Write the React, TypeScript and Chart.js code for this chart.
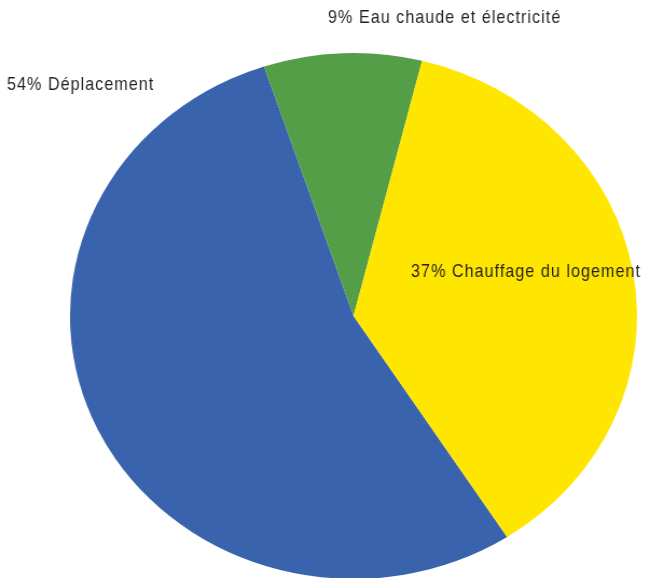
import React, { useEffect, useRef } from "react";
import { Chart, registerables } from "chart.js";

Chart.register(...registerables);

const categories = ["Déplacement", "Eau chaude et électricité", "Chauffage du logement"];
const shares = [54, 9, 37];
const colors = ["#3A63AE", "#559E48", "#FFE600"];

// label anchors relative to pie centre, in units of the horizontal / vertical radius
const labelAnchors = [
  { fx: -1.222, fy: -0.858 },
  { fx: -0.0899, fy: -1.114 },
  { fx: 0.203, fy: -0.148 },
];

const K = 283.5 / 263; // horizontal stretch of the pie (ellipse)
const TEXT_SX = 0.85; // condensed look of the label font
const CW = 600;
const CH = 600;
const LEFT = 0;
const CX = (353.5 - LEFT) / K;

export default function App() {
  const ref = useRef<HTMLCanvasElement | null>(null);
  useEffect(() => {
    if (!ref.current) return;
    const labelPlugin = {
      id: "sliceLabels",
      afterDraw(chart: any) {
        const ctx = chart.ctx;
        const meta = chart.getDatasetMeta(0);
        const arc = meta.data[0];
        const cx = LEFT + arc.x * K;
        const cy = arc.y;
        const rx = arc.outerRadius * K;
        const ry = arc.outerRadius;
        ctx.save();
        ctx.setTransform(TEXT_SX / K, 0, 0, 1, 0, 0);
        ctx.font = '19px "Liberation Sans", Arial, sans-serif';
        try {
          (ctx as any).letterSpacing = "1.2px";
        } catch (e) {}
        ctx.fillStyle = "#231F20";
        ctx.textAlign = "left";
        ctx.textBaseline = "alphabetic";
        categories.forEach((c, i) => {
          const a = labelAnchors[i];
          const x = (cx + a.fx * rx - LEFT) / TEXT_SX;
          const y = cy + a.fy * ry;
          ctx.fillText(`${shares[i]}% ${c}`, x, y);
        });
        ctx.restore();
      },
    };
    const chart = new Chart(ref.current, {
      type: "pie",
      data: {
        labels: categories,
        datasets: [
          {
            data: shares,
            backgroundColor: colors,
            borderWidth: 0,
          },
        ],
      },
      options: {
        responsive: false,
        animation: false,
        rotation: 147.2,
        layout: { padding: { top: 53, bottom: CH - 579, left: CX - 263, right: CW - CX - 263 } },
        plugins: { legend: { display: false }, tooltip: { enabled: false } },
      },
      plugins: [labelPlugin],
    });
    return () => chart.destroy();
  }, []);
  return (
    <div
      style={{
        position: "fixed",
        left: 0,
        top: 0,
        width: 645,
        height: 578,
        overflow: "hidden",
        background: "#ffffff",
      }}
    >
      <canvas
        ref={ref}
        width={CW}
        height={CH}
        style={{
          position: "absolute",
          left: LEFT,
          top: 0,
          width: CW,
          height: CH,
          transformOrigin: "0 0",
          transform: `scaleX(${K})`,
        }}
      />
    </div>
  );
}
